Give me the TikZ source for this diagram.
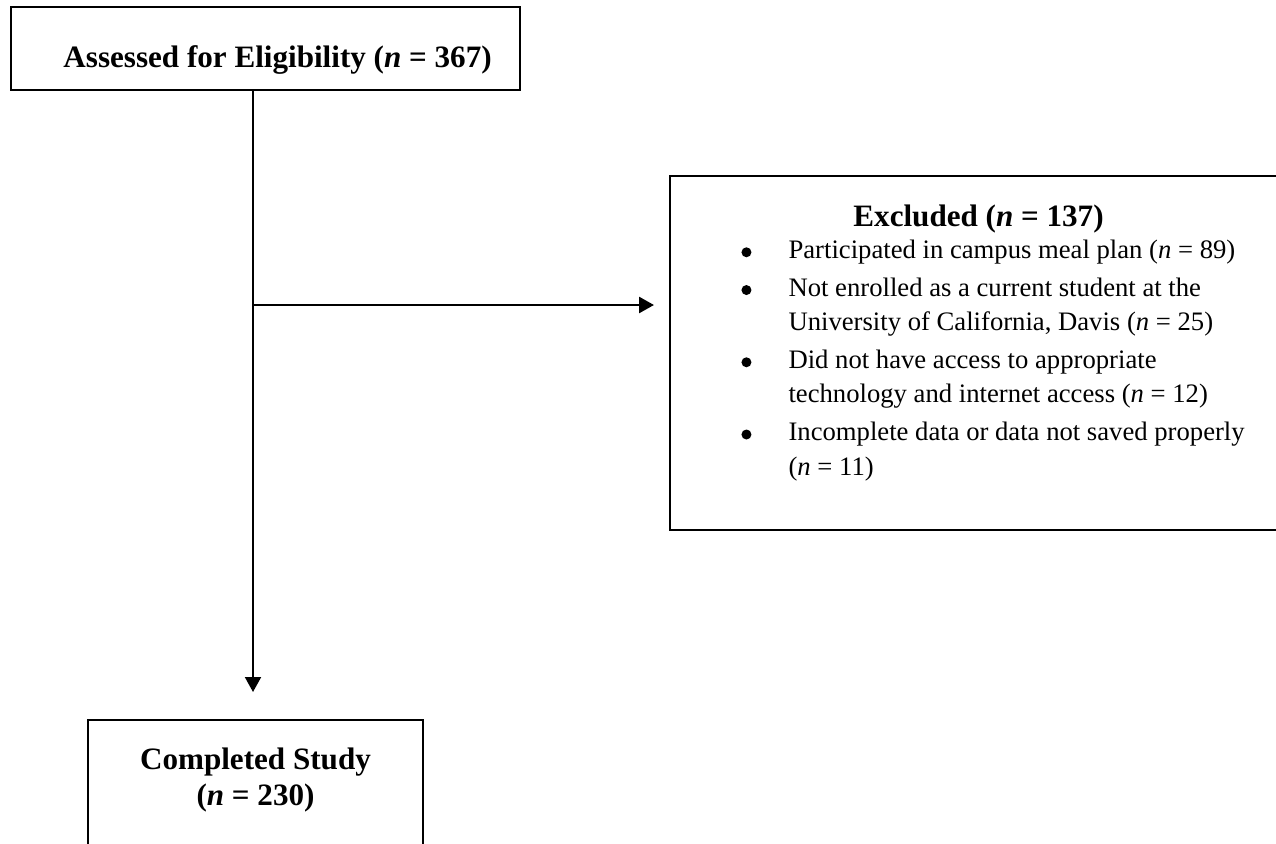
\documentclass[tikz,border=0pt]{standalone}
\usepackage{fontspec}
\setmainfont{Liberation Serif}
\usetikzlibrary{calc, positioning}
\usetikzlibrary{arrows.meta}

\newcommand\listdot{\tikz[baseline=-2.8pt]\fill (0pt,0pt) circle (2.25pt);}

\tikzset{
  flowbox/.style={draw, line width=0.9pt, inner sep=0pt},
  flowarrow/.style={-{Triangle[length=6.75pt,width=7.2pt]}, line width=0.9pt},
  boxtitle/.style={inner sep=0pt, font=\fontsize{14}{16.4}\selectfont\bfseries},
  boxbody/.style={inner sep=0pt, font=\fontsize{12}{15.5}\selectfont},
}

\begin{document}
\begin{tikzpicture}[x=0.45pt,y=-0.45pt]
\clip (0,0) rectangle (1276,843);
\def\xSplit{253}
\def\ySplit{305}

% boxes
\node[flowbox, line width=1.2pt, minimum width=509*0.45pt, minimum height=83*0.45pt] (assess) at (265.5,48.5) {};
\node[flowbox, minimum width=650*0.45pt, minimum height=354*0.45pt] (excl) at (995,353) {};
\node[flowbox, minimum width=335*0.45pt, minimum height=180*0.45pt] (done) at (255.5,810) {};

% connectors
\coordinate (split) at (\xSplit,\ySplit);
\draw[flowarrow] (assess.south -| split) -- ($(done.north -| split)+(0,-27)$);
\draw[flowarrow, line width=1.2pt] (split) -- ($(excl.west |- split)+(-15,0)$);

% texts
\node[boxtitle, anchor=base west] (assesstxt) at (63,67) {Assessed for Eligibility (\textit{n} = 367)};
\node[boxtitle, anchor=base west] (excltxt) at (853,226) {Excluded (\textit{n} = 137)};
\node[boxbody, anchor=base west] (excllist) at (741,258.5) {%
  \begin{tabular}[t]{@{}p{21.2pt}@{}l@{}}
  \listdot & Participated in campus meal plan (\textit{n} = 89)\\[1.5pt]
  \listdot & Not enrolled as a current student at the\\
           & University of California, Davis (\textit{n} = 25)\\[1.5pt]
  \listdot & Did not have access to appropriate\\
           & technology and internet access (\textit{n} = 12)\\[1.5pt]
  \listdot & Incomplete data or data not saved properly\\
           & (\textit{n} = 11)
  \end{tabular}};
\node[boxtitle, anchor=base] (donetxt) at (255.5,769.5) {%
  \begin{tabular}[t]{@{}c@{}}Completed Study\\(\textit{n} = 230)\end{tabular}};

\end{tikzpicture}
\end{document}
